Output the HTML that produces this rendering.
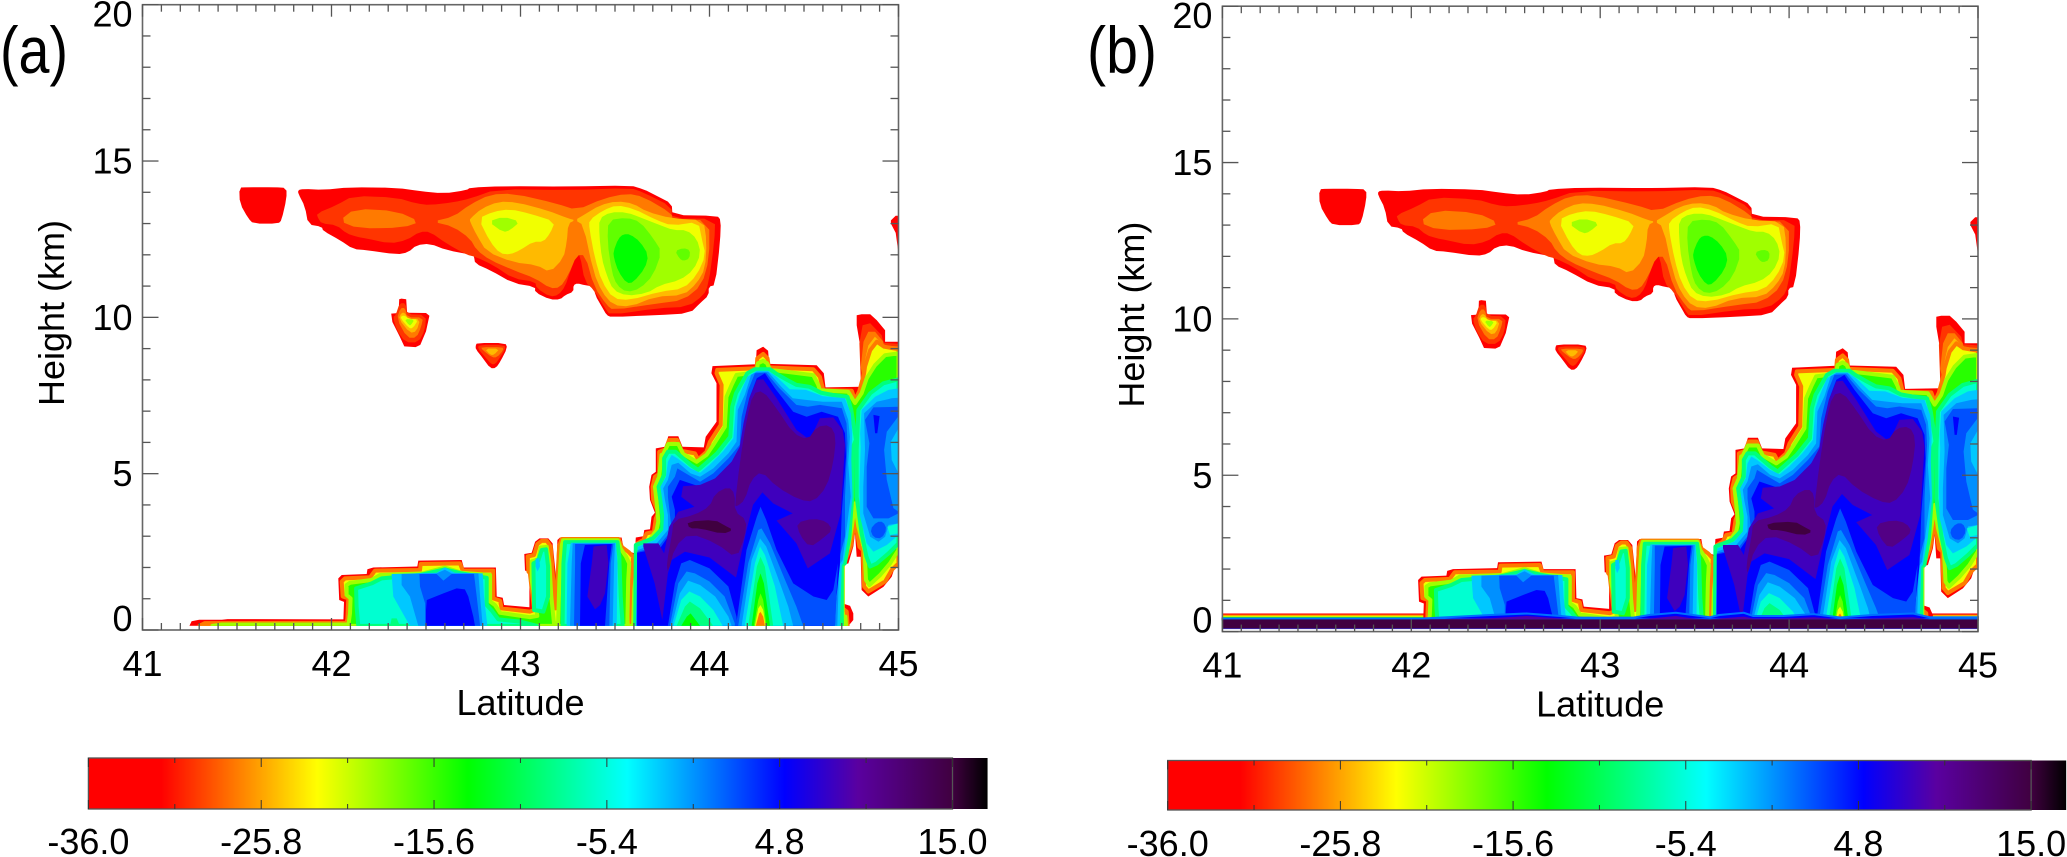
<!DOCTYPE html>
<html lang="en">
<head>
<meta charset="utf-8">
<title>Latitude-height contour panels</title>
<style>
html,body{margin:0;padding:0;background:#fff;width:2067px;height:857px;overflow:hidden}
svg{display:block}
text{font-family:"Liberation Sans",sans-serif;fill:#000}
</style>
</head>
<body>
<svg id="chart" xmlns="http://www.w3.org/2000/svg" width="2067" height="857" viewBox="0 0 2067 857">
<defs id="defs"></defs>
<rect width="2067" height="857" fill="#fff"></rect>
<text x="0" y="73" font-size="66" textLength="68" lengthAdjust="spacingAndGlyphs">(a)</text>
<text x="1087" y="73" font-size="66" textLength="70" lengthAdjust="spacingAndGlyphs">(b)</text>
</svg>
<script>
// ---------- axis data ----------
const latTicks = [41, 42, 43, 44, 45];
const kmTicks = [0, 5, 10, 15, 20];
const cbarLabels = ['-36.0', '-25.8', '-15.6', '-5.4', '4.8', '15.0'];
const cbarLabelValues = [-36, -25.8, -15.6, -5.4, 4.8, 15];
const cbarTickValues = [-36, -30.9, -25.8, -20.7, -15.6, -10.5, -5.4, -0.3, 4.8, 9.9, 15];
const cmapValues = [-36, -31.7, -22.5, -13.6, -4.2, 5.1, 9.4, 15, 17.07];
const cmapColors = ['#ff0000', '#ff0000', '#ffff00', '#00ff00', '#00ffff', '#0000ff', '#5a00a0', '#400040', '#000000'];

// ---------- contour regions, flat lat,km pairs ----------
const blobA = [41.512,14.15,41.55,14.16,41.70,14.16,41.762,14.14,41.762,13.80,41.736,13.11,41.718,13.0,41.586,13.0,41.56,13.16,41.515,13.64];
const cornerBlob = [44.985,13.25,45,13.25,45,12.05,44.985,12.7,44.96,13.0,44.96,13.1];
const cloudOuter = [41.824,14.07,41.851,14.11,41.957,14.08,42.098,14.16,42.345,14.145,42.468,14.04,42.592,13.96,42.715,14.07,42.733,14.145,42.909,14.20,43.262,14.18,43.58,14.22,43.65,14.10,43.72,13.89,43.80,13.64,43.804,13.27,44.04,13.25,44.06,13.11,44.056,12.42,44.03,11.03,43.996,10.98,43.996,10.71,43.95,10.45,43.897,10.13,43.72,10.07,43.48,10.01,43.456,10.07,43.43,10.34,43.395,10.71,43.389,10.98,43.34,11.03,43.30,11.09,43.28,11.03,43.28,10.82,43.236,10.71,43.21,10.57,43.156,10.57,43.077,10.80,43.077,10.98,42.962,11.09,42.839,11.51,42.76,11.72,42.754,11.94,42.75,11.99,42.609,12.15,42.521,12.36,42.45,12.31,42.406,12.08,42.345,12.01,42.186,12.15,42.115,12.18,42.045,12.47,41.957,12.76,41.948,12.90,41.877,12.97,41.86,13.54,41.824,13.96];
const cloudL1 = [41.921,13.32,42.027,13.59,42.115,13.89,42.345,13.83,42.45,13.64,42.521,13.59,42.645,13.68,42.733,13.80,42.874,14.10,43.262,14.07,43.58,14.14,43.65,13.995,43.80,13.54,43.80,13.16,44.03,13.16,44.026,12.42,43.994,11.03,43.968,10.71,43.888,10.34,43.72,10.29,43.474,10.07,43.447,10.29,43.389,10.87,43.34,11.14,43.315,11.99,43.297,11.99,43.262,11.46,43.236,10.98,43.2,10.71,43.156,10.66,43.086,10.93,43.077,11.14,42.962,11.24,42.856,11.67,42.76,11.94,42.715,12.0,42.609,12.36,42.521,12.74,42.468,12.74,42.398,12.47,42.309,12.36,42.186,12.52,42.133,12.58,42.08,12.68,42.027,12.95,41.948,13.0,41.93,13.16];
const cloudL2West = [42.041,13.09,42.124,13.48,42.345,13.40,42.468,13.06,42.38,12.87,42.142,12.84];
const cloudL2East = [42.535,13.06,42.645,13.22,42.733,13.61,42.839,13.93,42.962,13.96,43.192,13.64,43.297,13.43,43.439,13.80,43.562,13.96,43.65,13.86,43.80,13.32,43.804,13.13,43.999,13.11,43.999,11.885,43.959,11.03,43.862,10.55,43.72,10.44,43.49,10.23,43.456,10.39,43.389,10.98,43.342,11.99,43.297,11.99,43.253,11.35,43.209,10.95,43.156,10.93,43.077,11.25,42.962,11.51,42.839,11.83,42.768,12.15,42.733,12.52,42.645,12.90];
const cloudL3West = [42.733,13.16,42.795,13.48,42.883,13.70,42.98,13.68,43.139,13.43,43.253,13.16,43.289,13.11,43.253,13.0,43.245,12.42,43.227,11.885,43.156,11.44,43.086,11.67,42.962,11.76,42.821,12.1,42.768,12.63,42.733,13.06];
const cloudL3East = [43.289,13.11,43.333,13.27,43.421,13.59,43.509,13.72,43.597,13.64,43.668,13.38,43.80,13.16,43.968,13.11,43.985,12.42,43.977,11.565,43.933,11.09,43.862,10.71,43.712,10.66,43.58,10.34,43.49,10.39,43.43,10.82,43.386,11.46,43.333,12.95];
const cloudL4West = [42.777,13.16,42.856,13.38,42.945,13.46,43.05,13.32,43.183,13.06,43.156,12.68,43.121,12.42,43.068,12.42,42.998,12.15,42.945,12.01,42.892,12.04,42.839,12.42];
const cloudL4East = [43.364,13.11,43.439,13.43,43.509,13.59,43.597,13.48,43.72,13.11,43.80,12.93,43.941,13.06,43.959,12.52,43.98,11.99,43.933,11.35,43.862,10.92,43.738,10.82,43.58,10.55,43.491,10.6,43.43,11.14,43.394,11.885,43.364,12.84];
const cloudL5West = [42.83,13.06,42.909,13.22,42.998,13.06,42.945,12.79,42.909,12.72];
const cloudL5East = [43.417,13.16,43.474,13.36,43.562,13.36,43.65,13.16,43.738,12.95,43.809,12.79,43.88,12.79,43.933,12.52,43.954,12.04,43.915,11.51,43.844,11.19,43.738,11.03,43.668,10.77,43.562,10.69,43.491,10.87,43.456,11.35,43.43,11.885,43.417,12.63];
const cloudL6Core = [43.465,13.11,43.562,13.19,43.633,13.06,43.703,12.52,43.747,12.1,43.703,11.35,43.633,10.92,43.562,10.8,43.509,11.03,43.483,11.46,43.46,12.42];
const cloudL6Spot = [43.818,12.12,43.862,12.22,43.897,12.15,43.894,11.885,43.862,11.8,43.841,11.885];
const cloudL7Core = [43.491,12.1,43.518,12.52,43.544,12.66,43.58,12.66,43.633,12.42,43.677,11.99,43.659,11.57,43.597,11.12,43.562,11.09,43.518,11.46,43.495,11.885];

const patchOneOuter = [42.358,10.58,42.37,10.6,42.395,10.58,42.40,10.15,42.50,10.14,42.518,10.05,42.50,9.55,42.47,9.12,42.445,9.05,42.385,9.07,42.36,9.4,42.322,9.85,42.316,10.12,42.355,10.14];
const patchOneL1 = [42.36,10.45,42.393,10.45,42.398,10.1,42.50,10.08,42.495,9.6,42.46,9.2,42.39,9.2,42.345,9.6,42.325,10.0,42.34,10.08];
const patchOneL2 = [42.365,10.3,42.39,10.3,42.4,10.0,42.485,10.0,42.475,9.7,42.45,9.35,42.40,9.35,42.345,9.95];
const patchOneL3 = [42.37,10.15,42.388,10.15,42.405,9.95,42.47,9.95,42.45,9.55,42.415,9.5,42.355,9.95];
const patchOneL4 = [42.372,10.05,42.39,10.05,42.41,9.95,42.46,9.93,42.43,9.65,42.41,9.65,42.365,9.97];
const patchOneL5 = [42.385,9.95,42.44,9.93,42.42,9.75,42.41,9.75];
const patchTwoOuter = [42.77,9.18,42.92,9.18,42.93,9.02,42.895,8.6,42.87,8.38,42.84,8.37,42.80,8.7,42.763,8.98,42.763,9.1];
const patchTwoL1 = [42.78,9.12,42.915,9.12,42.92,8.98,42.89,8.7,42.865,8.5,42.845,8.5,42.81,8.75,42.775,9.0];
const patchTwoL2 = [42.79,9.05,42.905,9.05,42.91,8.95,42.875,8.72,42.85,8.72,42.80,8.95];
const patchTwoL3 = [42.81,9.0,42.89,9.0,42.86,8.8,42.84,8.8];

const lowerOuter = [41.248,.13,41.26,.28,41.30,.33,41.42,.33,41.45,.35,42.063,.34,42.066,.9,42.041,.96,42.036,1.65,42.054,1.76,42.186,1.79,42.19,1.94,42.221,2.0,42.454,2.03,42.459,2.22,42.689,2.24,42.70,2.0,42.87,2.0,42.874,1.07,42.906,1.03,42.913,.8,43.047,.725,43.047,1.87,43.024,1.9,43.02,2.43,43.059,2.47,43.077,2.825,43.10,2.93,43.147,2.93,43.17,2.77,43.188,1.7,43.195,2.88,43.209,2.96,43.535,2.96,43.547,2.56,43.605,2.45,43.61,2.96,43.649,3.0,43.655,3.2,43.685,3.22,43.693,3.62,43.711,3.75,43.685,4.16,43.681,4.58,43.693,4.96,43.716,5.06,43.716,5.81,43.764,5.86,43.782,6.2,43.835,6.2,43.857,5.86,43.97,5.84,43.98,6.18,44.037,6.66,44.037,7.89,44.01,8.21,44.016,8.44,44.245,8.5,44.249,8.95,44.284,9.06,44.31,8.93,44.316,8.51,44.567,8.47,44.605,8.21,44.614,7.76,44.805,7.78,44.805,8.42,44.797,9.11,44.779,9.75,44.779,10.07,44.805,10.1,44.85,10.1,44.885,9.91,44.929,9.59,44.929,9.22,45,9.22,45,2.35,44.964,1.7,44.92,1.38,44.84,1.07,44.805,1.28,44.80,2.34,44.779,2.34,44.77,3.09,44.761,2.66,44.735,2.13,44.705,2.08,44.705,.85,44.744,.77,44.761,.53,44.761,.32,44.735,.13];
const eastPeakDeepRed = [44.793,9.17,44.81,9.75,44.85,9.81,44.911,9.43,44.92,9.19,45,9.15,45,8.5,44.82,8.0,44.80,8.0];
const eastPeakOrange = [44.80,8.4,44.815,9.22,44.84,9.54,44.876,9.54,44.92,9.22,44.92,9.1,45,9.07,45,8.5,44.82,7.9];
const eastPeakAmber = [44.81,8.3,44.84,9.1,44.875,9.38,44.92,9.12,45,9.03,45,8.5,44.82,8.0];
const lowerYellow = [41.30,.13,41.33,.22,42.08,.23,42.084,.37,42.089,1.01,42.059,1.07,42.054,1.55,42.071,1.65,42.204,1.685,42.23,1.9,42.468,1.92,42.472,2.11,42.68,2.13,42.694,1.9,42.856,1.9,42.856,1.01,42.892,.94,42.90,.69,43.05,.59,43.072,.64,43.05,1.81,43.042,1.87,43.038,2.35,43.072,2.4,43.089,2.75,43.112,2.85,43.139,2.85,43.16,2.67,43.177,1.28,43.184,.69,43.192,1.28,43.205,2.7,43.218,2.91,43.52,2.91,43.537,2.65,43.571,2.5,43.596,2.34,43.584,1.07,43.588,.21,43.596,1.07,43.618,2.77,43.649,2.88,43.667,3.09,43.706,3.14,43.716,3.57,43.729,3.75,43.702,4.16,43.699,4.58,43.711,4.9,43.734,4.99,43.734,5.7,43.767,5.78,43.787,6.08,43.829,6.08,43.852,5.73,43.923,5.65,43.94,5.46,43.984,5.7,44.002,6.02,44.059,6.56,44.064,7.84,44.037,8.21,44.041,8.32,44.249,8.37,44.253,8.69,44.284,8.83,44.307,8.69,44.314,8.4,44.549,8.34,44.584,8.1,44.602,7.67,44.753,7.65,44.77,7.35,44.793,7.65,44.818,8.21,44.823,8.42,44.85,8.95,44.885,9.22,44.924,9.06,45,8.98,45,2.13,44.964,1.92,44.929,1.55,44.84,1.23,44.818,1.39,44.811,2.56,44.793,2.66,44.77,3.52,44.747,2.66,44.723,2.29,44.705,2.03,44.705,.69,44.726,.59,44.731,.13];
const lowerGreen = [41.37,.13,41.42,.175,42.09,.18,42.098,.53,42.101,1.01,42.08,1.12,42.08,1.44,42.098,1.51,42.212,1.6,42.257,1.76,42.482,1.81,42.6,2.0,42.689,1.83,42.839,1.76,42.839,.91,42.865,.8,42.892,.55,43.05,.41,43.089,.45,43.059,1.6,43.059,2.19,43.094,2.26,43.107,2.64,43.139,2.66,43.153,2.13,43.163,1.07,43.177,.21,43.199,.21,43.206,1.6,43.218,2.7,43.225,2.87,43.515,2.87,43.53,2.6,43.558,2.35,43.575,2.13,43.57,1.6,43.565,.13,43.596,.13,43.602,1.28,43.625,2.66,43.685,2.9,43.72,3.2,43.729,3.47,43.72,4.1,43.711,4.58,43.734,4.9,43.746,5.6,43.755,5.63,43.782,5.95,43.835,5.95,43.861,5.63,43.932,5.38,43.984,5.6,44.02,5.92,44.081,6.5,44.09,7.46,44.117,7.84,44.143,8.16,44.249,8.24,44.256,8.53,44.284,8.61,44.305,8.53,44.32,8.32,44.408,8.26,44.549,8.15,44.575,7.84,44.584,7.67,44.734,7.62,44.77,7.26,44.805,7.57,44.832,8.05,44.876,8.47,44.929,8.79,45,8.85,45,2.56,44.955,2.13,44.903,1.76,44.846,1.44,44.828,1.6,44.82,2.56,44.788,3.3,44.77,4.05,44.753,3.3,44.735,2.66,44.716,2.35,44.705,2.03,44.705,.43,44.719,.43,44.723,.13];

const shelfAqua = [42.142,.13,42.133,.75,42.13,1.33,42.212,1.49,42.265,1.65,42.468,1.76,42.6,1.94,42.689,1.81,42.821,1.67,42.821,.8,42.848,.62,42.883,.34,42.998,.27,43.068,.16,43.086,.13];
const shelfGreenPatch = [42.318,.37,42.345,.37,42.362,.13,42.31,.13];
const shelfSky = [42.318,1.79,42.556,1.83,42.6,2.0,42.653,1.83,42.80,1.81,42.807,1.07,42.825,.13,42.415,.13,42.327,1.07];
const shelfAzure = [42.371,1.79,42.556,1.81,42.6,1.93,42.636,1.81,42.777,1.81,42.786,1.07,42.80,.13,42.459,.13,42.415,1.07,42.371,1.44];
const shelfMid = [42.465,1.79,42.556,1.79,42.592,1.58,42.636,1.79,42.754,1.79,42.768,1.07,42.786,.13,42.495,.13,42.495,.85,42.468,1.39];
const shelfBlue = [42.504,.96,42.592,1.17,42.662,1.33,42.706,1.3,42.724,1.07,42.75,.43,42.759,.13,42.50,.13,42.50,.64];
const towerAqua = [43.072,.64,43.068,2.13,43.094,2.22,43.112,2.56,43.135,2.58,43.146,2.03,43.146,1.07,43.121,.59];
const towerSky = [43.08,2.29,43.1,2.29,43.103,2.03,43.09,1.87,43.08,2.03];
const blockAqua = [43.223,.13,43.227,2.13,43.236,2.81,43.513,2.81,43.523,2.34,43.53,1.07,43.541,.13];
const blockSky = [43.244,.13,43.248,2.13,43.266,2.79,43.505,2.79,43.513,2.13,43.509,.13];
const blockAzure = [43.262,.13,43.271,2.13,43.276,2.77,43.50,2.77,43.495,2.13,43.488,.13];
const blockMid = [43.283,.13,43.289,2.13,43.289,2.75,43.491,2.75,43.477,2.13,43.47,.13];
const blockBlue = [43.315,.13,43.319,2.13,43.341,2.72,43.483,2.75,43.47,2.13,43.447,.13];
const blockIndigo = [43.386,2.67,43.456,2.72,43.465,2.13,43.447,1.17,43.421,.8,43.394,.66,43.354,1.07,43.377,2.13];

const massAqua = [43.607,.13,43.61,2.72,43.70,2.93,43.75,3.25,43.75,3.68,43.74,4.16,43.73,4.58,43.76,4.96,43.76,5.49,43.78,5.7,43.82,5.7,43.90,5.28,43.94,5.12,43.98,5.33,44.04,5.65,44.11,6.18,44.12,7.14,44.14,7.57,44.20,8.21,44.24,8.34,44.32,8.34,44.35,8.21,44.41,8.0,44.46,7.84,44.53,7.78,44.59,7.59,44.65,7.52,44.73,7.46,44.75,7.04,44.775,6.08,44.76,5.86,44.755,4.26,44.74,2.99,44.716,2.13,44.70,2.08,44.70,.13];
const massSky = [43.61,.13,43.62,2.66,43.71,2.88,43.755,3.2,43.76,3.68,43.75,4.16,43.74,4.58,43.77,4.9,43.78,5.38,43.80,5.6,43.83,5.49,43.90,5.17,43.95,5.03,44.0,5.28,44.07,5.7,44.126,6.13,44.14,7.14,44.16,7.52,44.20,8.1,44.25,8.29,44.31,8.29,44.355,8.1,44.425,7.7,44.51,7.68,44.6,7.48,44.717,7.41,44.747,6.93,44.755,6.29,44.75,5.44,44.757,4.26,44.734,2.99,44.708,2.13,44.70,2.08,44.69,.13];
const massAzure = [43.612,.13,43.62,2.56,43.72,2.77,43.78,3.2,43.78,3.68,43.764,4.16,43.755,4.53,43.78,4.8,43.80,5.28,43.835,5.35,43.90,5.01,43.95,4.9,44.02,5.17,44.10,5.65,44.143,6.02,44.15,7.04,44.187,7.52,44.22,8.16,44.25,8.26,44.31,8.26,44.38,7.78,44.44,7.41,44.51,7.36,44.60,7.3,44.70,7.3,44.734,6.72,44.743,6.18,44.734,5.33,44.747,4.26,44.72,2.99,44.704,2.24,44.687,2.08,44.676,.13];
const massMid = [43.614,.13,43.617,2.5,43.73,2.67,43.80,3.2,43.79,3.73,43.78,4.26,43.78,4.58,43.817,4.9,43.83,5.17,43.88,4.99,43.95,4.74,44.02,5.01,44.10,5.49,44.16,5.92,44.17,6.82,44.205,7.68,44.24,8.21,44.30,8.23,44.37,7.73,44.46,7.2,44.52,7.14,44.584,7.2,44.70,7.09,44.725,6.61,44.73,5.97,44.717,4.26,44.717,2.99,44.68,2.13,44.664,.13];
const massBlue = [43.617,.13,43.617,2.47,43.738,2.61,43.817,3.3,43.817,3.84,43.80,4.26,43.843,4.8,43.95,4.58,44.03,4.85,44.11,5.33,44.17,5.76,44.187,6.61,44.214,7.46,44.25,8.05,44.293,8.21,44.346,7.73,44.443,6.98,44.514,6.82,44.593,6.98,44.68,6.82,44.717,6.29,44.722,5.54,44.70,3.78,44.69,2.08,44.655,.13];
const massIndigo = [43.65,2.77,43.73,2.77,43.76,2.45,43.787,3.3,43.835,3.78,43.92,3.94,43.85,4.26,43.86,4.6,43.95,4.64,44.03,4.85,44.117,5.38,44.16,5.86,44.18,6.61,44.21,7.41,44.25,8.0,44.284,8.02,44.355,7.41,44.46,6.4,44.53,6.08,44.584,6.77,44.655,6.8,44.704,6.4,44.717,5.92,44.694,3.73,44.637,2.45,44.52,1.97,44.46,2.77,44.355,3.5,44.44,3.73,44.337,4.05,44.28,4.4,44.23,4.0,44.196,3.2,44.14,1.68,44.0,2.32,43.87,2.5,43.80,2.24,43.78,1.81,43.75,.32,43.71,1.49,43.65,2.66];
const purpleUpper = [44.23,7.57,44.284,7.65,44.355,7.09,44.443,6.29,44.52,6.08,44.567,6.5,44.637,6.56,44.67,6.18,44.655,5.33,44.62,4.58,44.55,4.1,44.478,4.16,44.355,4.58,44.275,5.08,44.22,4.8,44.187,4.16,44.143,3.94,44.134,4.0,44.16,5.33,44.196,6.72];
const purpleLower = [43.81,3.52,43.92,3.68,44.0,3.94,44.03,4.37,44.10,4.58,44.134,4.37,44.134,3.78,44.196,3.52,44.187,2.99,44.143,2.29,44.037,2.77,43.896,3.1,43.817,2.67,43.78,1.81,43.773,2.13,43.80,2.99];
const purpleEast = [44.46,3.43,44.55,3.57,44.62,3.47,44.65,3.2,44.60,2.93,44.53,2.64,44.478,3.04];
const darkCore = [43.882,3.47,44.03,3.52,44.076,3.36,44.126,3.2,44.07,3.07,43.95,3.25,43.893,3.25];

const eastAqua = [44.788,7.04,44.85,7.57,44.92,7.89,45,8.02,45,2.77,44.947,2.45,44.885,2.13,44.85,2.03,44.83,2.35,44.805,3.09,44.779,4.26,44.779,5.76];
const eastSky = [44.797,6.29,44.805,7.04,44.876,7.46,44.947,7.68,45,7.73,45,3.04,44.938,2.72,44.867,2.5,44.832,2.77,44.797,3.62,44.793,4.58,44.80,5.86];
const eastAzure = [44.818,6.93,44.885,7.3,44.964,7.41,45,7.43,45,3.41,44.947,3.36,44.929,2.98,44.894,2.82,44.85,2.98,44.814,3.73,44.814,4.58,44.823,5.76];
const eastMid = [44.823,6.72,44.867,7.12,45,7.14,45,3.73,44.947,3.57,44.867,3.57,44.832,3.94,44.832,5.22,44.846,5.97];
const eastAzureIsle = [45,6.84,44.938,6.34,44.924,5.76,44.938,4.8,44.973,3.9,45,3.78];
const eastSkyIsle = [45,6.45,44.959,6.02,44.964,5.44,45,5.01];
const eastMidLump = [44.85,3.22,44.885,3.46,44.92,3.46,44.938,3.22,44.911,2.93,44.867,2.96];
const eastAquaPatch = [44.941,3.3,45,3.41,45,3.09,44.955,3.04];
const eastBlueSpot = [44.867,6.88,44.9,6.84,44.888,6.29,44.876,6.29];

const bowlOneMid = [43.78,.13,43.817,1.49,43.85,2.13,43.896,2.24,44.0,1.97,44.10,1.39,44.143,.43,44.147,.13];
const bowlOneAzure = [43.79,.13,43.835,1.49,43.879,1.87,43.923,1.81,44.0,1.55,44.08,1.07,44.134,.21,44.134,.13];
const bowlOneSky = [43.80,.13,43.843,1.17,43.887,1.58,43.95,1.44,44.03,1.07,44.10,.43,44.117,.13];
const bowlOneAqua = [43.81,.13,43.85,.96,43.893,1.23,43.95,1.07,44.02,.64,44.07,.13];
const bowlOneSpring = [43.826,.13,43.87,.75,43.896,.91,43.95,.69,44.02,.13];
const bowlOneGreen = [43.85,.13,43.88,.43,43.90,.53,43.95,.13];
const bowlTwoMid = [44.14,.13,44.196,2.56,44.25,3.62,44.27,3.94,44.30,3.52,44.355,2.56,44.443,1.49,44.55,1.07,44.62,.96,44.655,1.28,44.68,2.13,44.664,.13];
const bowlTwoAzure = [44.152,.13,44.205,2.13,44.258,3.2,44.275,3.25,44.32,2.77,44.40,1.6,44.46,.75,44.496,.13];
const bowlTwoSky = [44.17,.13,44.223,2.24,44.267,2.93,44.30,2.67,44.373,1.49,44.417,.75,44.443,.13];
const bowlTwoAqua = [44.187,.13,44.24,2.13,44.267,2.67,44.293,2.4,44.346,1.39,44.39,.13];
const bowlTwoSpring = [44.205,.13,44.25,2.02,44.27,2.34,44.293,2.02,44.337,.13];
const bowlTwoGreen = [44.223,.13,44.253,1.49,44.27,1.81,44.288,1.49,44.32,.13];
const bowlTwoLime = [44.235,.13,44.258,.96,44.27,1.17,44.284,.96,44.302,.13];
const bowlTwoYellow = [44.24,.13,44.258,.69,44.27,.8,44.284,.64,44.297,.13];
const bowlTwoOrange = [44.245,.13,44.263,.53,44.27,.58,44.284,.43,44.293,.13];

// contour order: ring, level value, optional halo level
const contourOrder = [
  [blobA,-36],[cornerBlob,-36],[cloudOuter,-36],[cloudL1,-29.8],[cloudL2West,-27.3],[cloudL2East,-27.3],
  [cloudL3West,-25],[cloudL3East,-25],[cloudL4West,-22],[cloudL4East,-22],[cloudL5West,-19.2],[cloudL5East,-19.2],
  [cloudL6Core,-17],[cloudL6Spot,-17],[cloudL7Core,-13.6],
  [patchOneOuter,-36],[patchOneL1,-29.8],[patchOneL2,-27.3],[patchOneL3,-25],[patchOneL4,-22],[patchOneL5,-19.2],
  [patchTwoOuter,-36],[patchTwoL1,-29.8],[patchTwoL2,-27.3],[patchTwoL3,-25],
  [lowerOuter,-36],[eastPeakDeepRed,-29.8],[eastPeakOrange,-27.3],[eastPeakAmber,-25],[lowerYellow,-22,-27.3],[lowerGreen,-15,-19.2],
  [shelfAqua,-5.9,-9],[shelfGreenPatch,-9],[towerAqua,-5.9,-9],[blockAqua,-5.9,-9],[massAqua,-5.9,-9],[eastAqua,-5.9,-9],
  [shelfSky,-2.2],[towerSky,-2.2],[blockSky,-2.2],[massSky,-2.2],[eastSky,-2.2],
  [shelfAzure,-.15],[blockAzure,-.15],[massAzure,-.15],[eastAzure,-.15],
  [shelfMid,2.2],[blockMid,2.2],[massMid,2.2],[eastMid,2.2],
  [shelfBlue,5.1],[blockBlue,5.1],[massBlue,5.1],
  [blockIndigo,8.1],[massIndigo,8.1],[purpleUpper,11],[purpleLower,11],[purpleEast,11],[darkCore,15],
  [eastAzureIsle,-.15],[eastSkyIsle,-2.2],[eastMidLump,2.2],[eastAquaPatch,-5.9],[eastBlueSpot,5.1],
  [bowlOneMid,2.2],[bowlOneAzure,-.15],[bowlOneSky,-2.2],[bowlOneAqua,-5.9],[bowlOneSpring,-8.9],[bowlOneGreen,-13.6],
  [bowlTwoMid,2.2],[bowlTwoAzure,-.15],[bowlTwoSky,-2.2],[bowlTwoAqua,-5.9],[bowlTwoSpring,-8.9],[bowlTwoGreen,-13.6],
  [bowlTwoLime,-17],[bowlTwoYellow,-22],[bowlTwoOrange,-27.3]
];
// rings whose corners are rounded when drawn
const roundedRings = [blobA,cloudOuter,cloudL1,cloudL2West,cloudL2East,cloudL3West,cloudL3East,cloudL4West,cloudL4East,cloudL5West,cloudL5East,cloudL6Core,cloudL6Spot,cloudL7Core,patchOneL1,patchOneL2,patchOneL3,patchOneL4,patchOneL5,patchTwoOuter,patchTwoL1,patchTwoL2,patchTwoL3,purpleUpper,purpleLower,purpleEast,darkCore,eastMidLump];

// panel (b) surface layer
const surfaceStripTops = [.58,.545,.51,.475,.445];
const surfaceStripLevels = [-36,-27.3,-22,-15,-5.9];
const surfaceLats = [41,42.06,42.42,42.61,42.79,42.875,43.0,43.18,43.26,43.40,43.49,43.58,43.63,43.76,43.81,43.97,44.13,44.27,44.44,44.656,44.744,45];
const surfaceBlueTops = [.42,.42,.53,.58,.5,.45,.44,.45,.53,.6,.53,.46,.53,.6,.5,.5,.56,.45,.53,.58,.46,.46];
const surfaceIndigoTops = [.39,.39,.43,.5,.42,.39,.39,.39,.42,.5,.42,.39,.42,.48,.42,.42,.46,.39,.42,.46,.39,.39];
const surfaceDarkTop = .39;
const surfaceDarkBase = .10;
const surfaceLineBase = .08;

// ---------- layout ----------
const panelA = {id:'a', left:142.5, right:898.5, yTop:4.7, yBase:630, hasSurface:false, cbarLeft:88.4, cbarPer:16.943, cbarTop:758, cbarBottom:809, cbarBaseline:854, xLabelBase:676, titleBase:715};
const panelB = {id:'b', left:1222.4, right:1978, yTop:6.2, yBase:631.6, hasSurface:true, cbarLeft:1167.7, cbarPer:16.93, cbarTop:760.5, cbarBottom:810, cbarBaseline:856, xLabelBase:677.5, titleBase:716.6};
const NS = 'http://www.w3.org/2000/svg';
const svg = document.getElementById('chart');
const defs = document.getElementById('defs');

function make(tag, attrs, parent) {
  const el = document.createElementNS(NS, tag);
  for (const k in attrs) el.setAttribute(k, attrs[k]);
  (parent || svg).appendChild(el);
  return el;
}
function hexToRgb(h) {
  return [parseInt(h.slice(1,3),16), parseInt(h.slice(3,5),16), parseInt(h.slice(5,7),16)];
}
function levelColor(v) {
  let i = 0;
  while (i < cmapValues.length - 2 && v > cmapValues[i+1]) i++;
  const t = Math.max(0, Math.min(1, (v - cmapValues[i]) / (cmapValues[i+1] - cmapValues[i])));
  const a = hexToRgb(cmapColors[i]), b = hexToRgb(cmapColors[i+1]);
  return 'rgb(' + a.map(function(c, j){ return Math.round(c + (b[j] - c) * t); }).join(',') + ')';
}
function cornerCut(r) {
  const out = [];
  const n = r.length / 2;
  for (let i = 0; i < n; i++) {
    const j = (i + 1) % n;
    out.push(r[2*i]*.75 + r[2*j]*.25, r[2*i+1]*.75 + r[2*j+1]*.25);
    out.push(r[2*i]*.25 + r[2*j]*.75, r[2*i+1]*.25 + r[2*j+1]*.75);
  }
  return out;
}

function drawPanel(p) {
  const xOf = function(lat){ return p.left + (lat - 41) * (p.right - p.left) / 4; };
  const yOf = function(km){ return p.yBase - km * (p.yBase - p.yTop) / 20; };
  const ringPoints = function(r) {
    const out = [];
    for (let i = 0; i < r.length; i += 2) out.push(xOf(r[i]).toFixed(1) + ',' + yOf(r[i+1]).toFixed(1));
    return out.join(' ');
  };
  const bandPoints = function(lats, tops, base) {
    const out = [];
    lats.forEach(function(la, i){ out.push(xOf(la).toFixed(1) + ',' + yOf(tops[i]).toFixed(1)); });
    out.push(xOf(lats[lats.length-1]).toFixed(1) + ',' + yOf(base).toFixed(1));
    out.push(xOf(lats[0]).toFixed(1) + ',' + yOf(base).toFixed(1));
    return out.join(' ');
  };

  const clip = make('clipPath', {id:'plot-clip-' + p.id}, defs);
  make('rect', {x:p.left, y:p.yTop, width:p.right-p.left, height:yOf(.13)-p.yTop}, clip);

  const plot = make('g', {'clip-path':'url(#plot-clip-' + p.id + ')'});
  
  

  if (p.hasSurface) {
    surfaceStripTops.forEach(function(top, i) {
      const strip = make('rect', {x:xOf(41), y:yOf(top), width:xOf(45)-xOf(41), height:yOf(.13)-yOf(top), fill:levelColor(surfaceStripLevels[i])}, plot);
      
      
    });
  }

  contourOrder.forEach(function(item) {
    const ring = roundedRings.indexOf(item[0]) >= 0 ? cornerCut(item[0]) : item[0];
    const poly = make('polygon', {points:ringPoints(ring), fill:levelColor(item[1])}, plot);
    if (item.length > 2) {
      poly.setAttribute('stroke', levelColor(item[2]));
      poly.setAttribute('stroke-width', '4');
      poly.setAttribute('stroke-linejoin', 'round');
    }
    
    
  });

  if (p.hasSurface) {
    const blueBand = make('polygon', {points:bandPoints(surfaceLats, surfaceBlueTops, surfaceDarkTop), fill:levelColor(5.1), stroke:levelColor(1), 'stroke-width':'2'});
    
    
    const indigoBand = make('polygon', {points:bandPoints(surfaceLats, surfaceIndigoTops, surfaceDarkTop), fill:levelColor(9)});
    
    
    const lineBand = make('rect', {x:xOf(41), y:yOf(surfaceDarkBase), width:xOf(45)-xOf(41), height:yOf(surfaceLineBase)-yOf(surfaceDarkBase), fill:'#3030e0'});
    
    
    const darkBand = make('rect', {x:xOf(41), y:yOf(surfaceDarkTop), width:xOf(45)-xOf(41), height:yOf(surfaceDarkBase)-yOf(surfaceDarkTop), fill:levelColor(15)});
    
    
  }

  // frame
  const frame = make('rect', {x:p.left, y:p.yTop, width:p.right-p.left, height:p.yBase-p.yTop, fill:'none', stroke:'#666', 'stroke-width':'1.6'});
  
  

  // x ticks
  const xAxis = make('g', {stroke:'#555', 'stroke-width':'1.3'});
  
  
  for (let i = 0; i <= 40; i++) {
    const x = xOf(41 + i / 10);
    const len = i % 10 === 0 ? 12 : 7;
    make('line', {x1:x, x2:x, y1:p.yBase, y2:p.yBase-len}, xAxis);
    make('line', {x1:x, x2:x, y1:p.yTop, y2:p.yTop+len}, xAxis);
  }
  // y ticks
  const yAxis = make('g', {stroke:'#555', 'stroke-width':'1.3'});
  
  
  for (let km = 0; km <= 20; km++) {
    const y = yOf(km);
    const len = km % 5 === 0 ? 16 : 8;
    make('line', {x1:p.left, x2:p.left+len, y1:y, y2:y}, yAxis);
    make('line', {x1:p.right, x2:p.right-len, y1:y, y2:y}, yAxis);
  }

  latTicks.forEach(function(lat) {
    const t = make('text', {x:xOf(lat), y:p.xLabelBase, 'font-size':'36', 'text-anchor':'middle'});
    t.textContent = String(lat);
    
    
  });
  kmTicks.forEach(function(km) {
    const base = Math.min(p.yBase + 1, Math.max(p.yTop + 22, yOf(km) + 12.5));
    const t = make('text', {x:p.left-10, y:base, 'font-size':'36', 'text-anchor':'end'});
    t.textContent = String(km);
    
    
  });
  const xTitle = make('text', {x:(p.left+p.right)/2, y:p.titleBase, 'font-size':'36', 'text-anchor':'middle'});
  xTitle.textContent = 'Latitude';
  
  
  const cy = 313 + (p.yBase - 630);
  const cx = p.left - 78.5;
  const yTitle = make('text', {x:cx, y:cy, 'font-size':'36', 'text-anchor':'middle', transform:'rotate(-90 ' + cx + ' ' + cy + ')'});
  yTitle.textContent = 'Height (km)';
  
  

  // colour bar
  const cbarX = function(v){ return p.cbarLeft + (v + 36) * p.cbarPer; };
  const grad = make('linearGradient', {id:'cbar-grad-' + p.id, x1:'0', x2:'1', y1:'0', y2:'0'}, defs);
  const vMin = cmapValues[0], vMax = cmapValues[cmapValues.length-1];
  cmapValues.forEach(function(v, i) {
    make('stop', {offset:((v-vMin)/(vMax-vMin)).toFixed(4), 'stop-color':cmapColors[i]}, grad);
  });
  const bar = make('rect', {x:cbarX(vMin), y:p.cbarTop, width:cbarX(vMax)-cbarX(vMin), height:p.cbarBottom-p.cbarTop, fill:'url(#cbar-grad-' + p.id + ')'});
  
  
  const barFrame = make('rect', {x:cbarX(-36), y:p.cbarTop, width:cbarX(15)-cbarX(-36), height:p.cbarBottom-p.cbarTop, fill:'none', stroke:'#555', 'stroke-width':'1.3'});
  
  
  const barTicks = make('g', {stroke:'#333', 'stroke-width':'1'});
  
  
  cbarTickValues.forEach(function(v, i) {
    const len = i % 2 === 0 ? 9 : 5;
    make('line', {x1:cbarX(v), x2:cbarX(v), y1:p.cbarTop, y2:p.cbarTop+len}, barTicks);
    make('line', {x1:cbarX(v), x2:cbarX(v), y1:p.cbarBottom, y2:p.cbarBottom-len}, barTicks);
  });
  cbarLabels.forEach(function(label, i) {
    const t = make('text', {x:cbarX(cbarLabelValues[i]), y:p.cbarBaseline, 'font-size':'36', 'text-anchor':'middle'});
    t.textContent = label;
    
    
  });
}
drawPanel(panelA);
drawPanel(panelB);
</script>
</body>
</html>
